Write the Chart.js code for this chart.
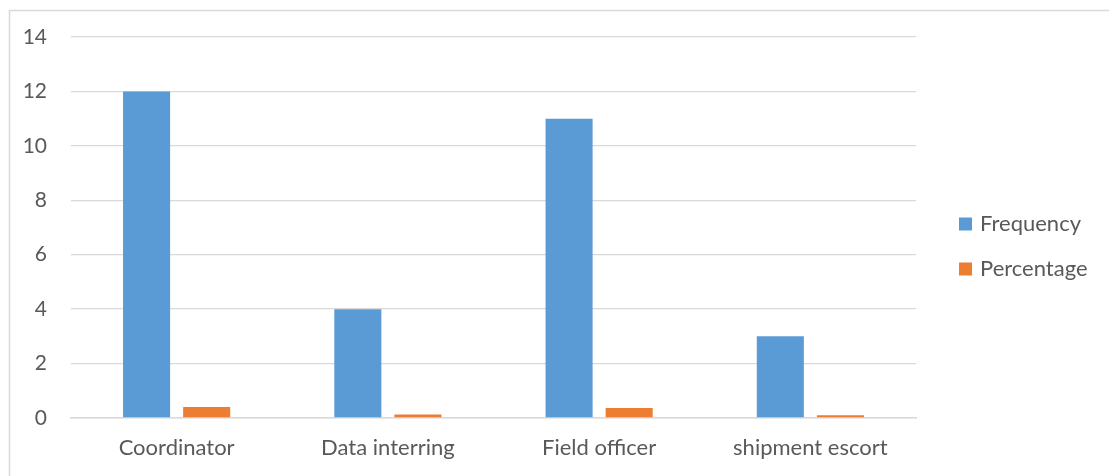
<!DOCTYPE html>
<html>
<head>
<meta charset="utf-8">
<script src="https://cdn.jsdelivr.net/npm/chart.js@4"></script>
<style>
  html, body { margin: 0; padding: 0; background: #fff; }
  #wrap { position: relative; width: 1109px; height: 476px; }
</style>
</head>
<body>
<div id="wrap"><canvas id="roleChart" width="1109" height="476"></canvas></div>
<script>
// roles and counts
const roles = ['Coordinator', 'Data interring', 'Field officer', 'shipment escort'];
const frequency = [12, 4, 11, 3];
const percentage = [0.4, 0.13, 0.37, 0.1];
const yTicks = [0, 2, 4, 6, 8, 10, 12, 14];

const FONT = 'Lato, "Open Sans", sans-serif';
const TEXT = '#595959';
const GRID = '#d9d9d9';

// outer frame + legend on the right
const framePlugin = {
    id: 'frame',
    beforeDraw(chart) {
        const c = chart.ctx;
        c.save();
        c.strokeStyle = GRID;
        c.lineWidth = 1.5;
        c.beginPath();
        c.moveTo(9.5, 476);
        c.lineTo(9.5, 10.5);
        c.lineTo(1109, 10.5);
        c.stroke();
        c.restore();
    },
    afterDraw(chart) {
        const c = chart.ctx;
        c.save();
        c.font = '22px ' + FONT;
        c.textBaseline = 'middle';
        chart.data.datasets.forEach((ds, i) => {
            const y = 224 + i * 45;
            c.fillStyle = ds.backgroundColor;
            c.fillRect(959, y - 6.5, 13, 13);
            c.fillStyle = TEXT;
            c.fillText(ds.label, 980, y);
        });
        c.restore();
    }
};

new Chart(document.getElementById('roleChart'), {
    type: 'bar',
    data: {
        labels: roles,
        datasets: [
            { label: 'Frequency', data: frequency, backgroundColor: '#5b9bd5' },
            { label: 'Percentage', data: percentage, backgroundColor: '#ed7d31' }
        ]
    },
    options: {
        responsive: false,
        animation: false,
        layout: { padding: { top: 37, right: 193, left: 0, bottom: 0 } },
        datasets: { bar: { categoryPercentage: 0.569, barPercentage: 0.783 } },
        plugins: { legend: { display: false }, tooltip: { enabled: false } },
        scales: {
            x: {
                grid: { display: false, drawTicks: false },
                border: { color: GRID, width: 1.5 },
                ticks: { color: TEXT, font: { family: FONT, size: 22 }, padding: 17, maxRotation: 0 },
                afterFit(s) { s.height = 58; }
            },
            y: {
                min: 0,
                max: 14,
                afterBuildTicks(s) { s.ticks = yTicks.map(v => ({ value: v })); },
                grid: { color: GRID, lineWidth: 1.3, drawTicks: false },
                border: { display: false },
                ticks: { color: TEXT, font: { family: FONT, size: 21 }, padding: 24 },
                afterFit(s) { s.width = 71; }
            }
        }
    },
    plugins: [framePlugin]
});
</script>
</body>
</html>
